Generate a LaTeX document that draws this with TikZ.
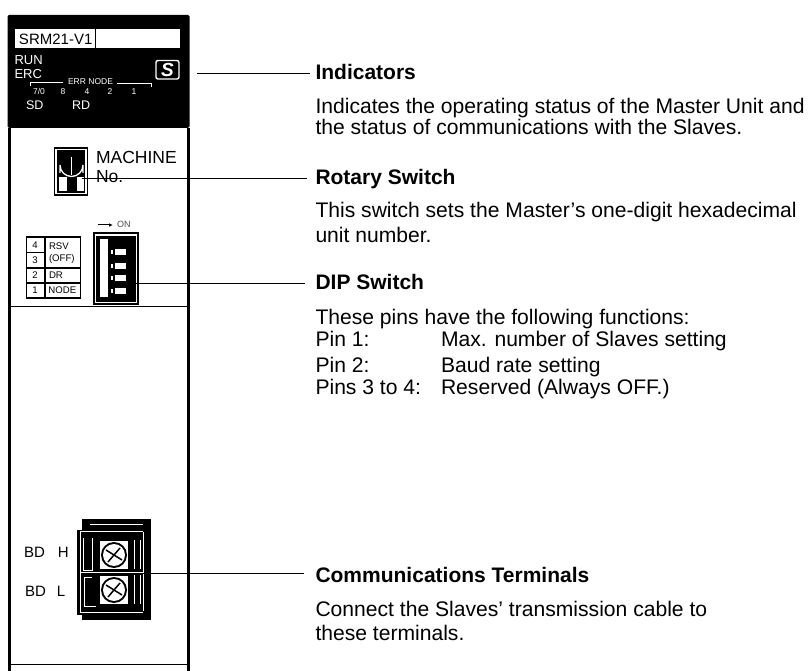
\documentclass[tikz,border=0pt]{standalone}
\usetikzlibrary{arrows.meta}
\usepackage{fontspec}
\setmainfont{Liberation Sans}
\begin{document}
\begin{tikzpicture}[x=1pt,y=-1pt,
  px/.style={inner sep=0pt,outer sep=0pt},
  head/.style={px,anchor=base west,font=\fontsize{21}{24}\selectfont\bfseries},
  body/.style={px,anchor=base west,font=\fontsize{21.1}{24}\selectfont},
  panel/.style={px,anchor=base west,font=\fontsize{17.5}{18}\selectfont},
  wl/.style={px,anchor=base west,white,font=\fontsize{13}{14}\selectfont},
  tiny/.style={px,anchor=base,white,font=\fontsize{8.5}{9}\selectfont},
  dip/.style={px,anchor=base,font=\fontsize{9.6}{10}\selectfont},
  bdl/.style={px,anchor=base west,font=\fontsize{15}{16}\selectfont},
  conn/.style={line width=0.9pt},
  thick/.style={line width=3pt}]
\useasboundingbox (0,0) rectangle (812,671);
% case
\fill[black,rounded corners=1.5pt] (7.5,15) rectangle (189.5,128);
\fill[white] (11,128) rectangle (186,130);
\draw[thick] (9.5,128) -- (9.5,671);
\draw[thick] (188,128) -- (188,671);
\draw[line width=1pt] (10,307) -- (187,307);
\draw[line width=1pt] (10,664) -- (187,664);
% name
\fill[white] (15,29) rectangle (180,48.5);
\draw[line width=1pt] (95.5,29) -- (95.5,48.5);
\node[px,anchor=base west,font=\fontsize{15}{16}\selectfont] (name) at (19,45) {SRM21-V1};
\node[wl] (run) at (14.5,65) {RUN};
\node[wl] (erc) at (14.5,79) {ERC};
\node[wl,font=\fontsize{12.5}{13}\selectfont] (sd) at (26,110) {SD};
\node[wl,font=\fontsize{12.5}{13}\selectfont] (rd) at (72,110) {RD};
\draw[white,line width=.7pt] (30,86) -- (30,82) -- (63,82);
\draw[white,line width=.7pt] (117,83) -- (151,83) -- (151,87);
\node[tiny] (err) at (90.5,85) {ERR NODE};
\node[tiny] at (39,95) {7/0};
\node[tiny] at (63,95) {8};
\node[tiny] at (87,95) {4};
\node[tiny] at (110,95) {2};
\node[tiny] at (134,95) {1};
% logo
\draw[white,line width=1.4pt,rounded corners=2pt] (156,60.5) rectangle (179,79);
\node[px,white,font=\fontsize{19}{19}\selectfont\bfseries\itshape] (logo) at (167.5,70) {S};
% rotary
\draw[line width=1.4pt,fill=white] (54.5,148) rectangle (87.5,195);
\fill[black] (57,150) rectangle (85,193);
\draw[white,line width=1.3pt] (60,173) -- (60,165) arc[start angle=180,end angle=0,radius=11.5] -- (83,173);
\draw[white,line width=1.5pt] (71.5,157) -- (71.5,175);
\fill[white] (59,177) rectangle (67,191);
\fill[white] (77,177) rectangle (84,191);
\node[panel] (mach) at (96,164) {MACHINE};
\node[panel] (no) at (96,183) {No.};
% DIP legend
\draw[line width=1.4pt] (26.5,237) rectangle (80.5,298);
\draw[line width=1.2pt] (45,237) -- (45,298);
\draw[line width=1.2pt] (26.5,268) -- (80.5,268);
\draw[line width=1.2pt] (26.5,283) -- (80.5,283);
\draw[line width=.8pt] (26.5,252) -- (45,252);
\node[dip] (k4) at (35,249) {4};
\node[dip] (k3) at (35,264) {3};
\node[dip] (k2) at (35,279) {2};
\node[dip] (k1) at (35,294) {1};
\node[dip,anchor=base west] (rsv) at (49,250) {RSV};
\node[dip,anchor=base west] (off) at (49,262) {(OFF)};
\node[dip,anchor=base west] (dr) at (49,279) {DR};
\node[dip,anchor=base west] (nd) at (48.5,294) {NODE};
% DIP switch
\draw[-{Latex[length=4pt,width=3.5pt]},line width=1pt] (98,225) -- (113,225);
\node[px,font=\fontsize{9}{9}\selectfont,anchor=base west,black!70] (on) at (117,228) {ON};
\draw[line width=1.4pt,fill=white] (94,233) rectangle (138,304);
\fill[black] (96,236) rectangle (136,302);
\fill[white] (100,239) rectangle (108,297);
\foreach \y in {252,266,278,291}{
  \fill[white] (115,\y-3) rectangle (126,\y+3);
  \fill[white] (111,\y-2) rectangle (113,\y+2);
}
% terminals
\fill[black] (82,519) rectangle (151,620);
\fill[black] (77,530) rectangle (82,615);
\draw[white,line width=.7pt] (90,524) -- (143,524);
\draw[white,line width=.8pt] (80,531) -- (143,531) (143,532) -- (143,611) (80,612) -- (143,612) (80,532) -- (80,612);
\foreach \yy in {555,590}{
  \fill[white] (100,\yy-14) rectangle (128,\yy+14);
  \fill[black] (114,\yy) circle (13);
  \fill[white] (114,\yy) circle (11);
  \draw[black,line width=1.5pt] (106,\yy-5) -- (122,\yy+5) (108,\yy+7) -- (120,\yy-7);
  \draw[white,line width=1pt] (134,\yy-15) -- (134,\yy+14);
  \draw[white,line width=1pt] (140,\yy-15) -- (140,\yy+14);
}
\draw[white,line width=1pt] (83,538) -- (83,570) -- (92,570) -- (92,538);
\draw[white,line width=1pt] (92,577) -- (84,577) -- (84,606) -- (96,606);
\draw[white,line width=.8pt] (80,572) -- (143,572);
\node[bdl] (bdh) at (24,557) {BD\hspace{13pt}H};
\node[bdl] (bdl) at (25,596) {BD\hspace{11pt}L};
% text nodes
\node[head] (ind) at (315.5,80) {Indicators};
\node[body] at (315.5,114) {Indicates the operating status of the Master Unit and};
\node[body] at (315.5,135) {the status of communications with the Slaves.};
\node[head] (rot) at (315.5,185) {Rotary Switch};
\node[body] at (315.5,218) {This switch sets the Master’s one-digit hexadecimal};
\node[body] at (315.5,243) {unit number.};
\node[head] (dsw) at (315.5,290) {DIP Switch};
\node[body] at (315.5,324) {These pins have the following functions:};
\node[body] at (315.5,347) {Pin 1:};
\node[body] at (441,347) {Max. number of Slaves setting};
\node[body] at (315.5,372) {Pin 2:};
\node[body] at (441,372) {Baud rate setting};
\node[body] at (315.5,395) {Pins 3 to 4:};
\node[body] at (441,395) {Reserved (Always OFF.)};
\node[head] (com) at (315.5,582) {Communications Terminals};
\node[body] at (315.5,616) {Connect the Slaves’ transmission cable to};
\node[body] at (315.5,640) {these terminals.};
% leader lines
\coordinate (li) at (197,73);
\coordinate (lr) at (82,178);
\coordinate (ld) at (133,283);
\coordinate (lc) at (143,573);
\draw[conn,shorten >=5.5pt] (li) -- (li -| ind.west);
\draw[conn,shorten >=8.5pt] (lr) -- (lr -| rot.west);
\draw[conn,shorten >=10.5pt] (ld) -- (ld -| dsw.west);
\draw[conn,shorten >=11.5pt] (lc) -- (lc -| com.west);
\end{tikzpicture}
\end{document}
